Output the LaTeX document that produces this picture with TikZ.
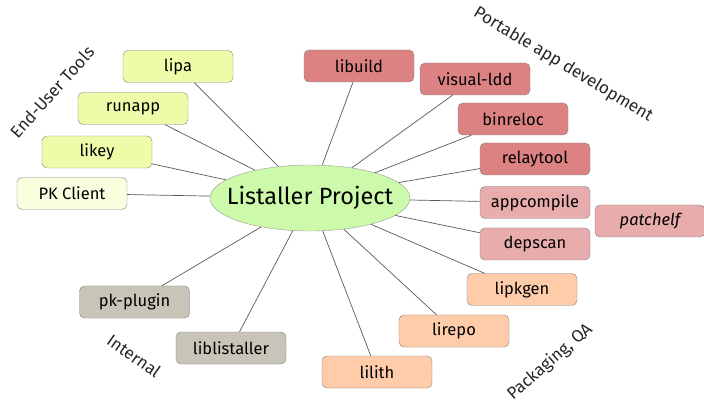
\documentclass[tikz,border=0pt]{standalone}
\usepackage{fontspec}
\setmainfont{Fira Sans}
\usepackage{xcolor}
\usepackage{tikz}
\usetikzlibrary{shapes.geometric}
\definecolor{lsgreen}{RGB}{204,250,170}
\definecolor{lsuser}{RGB}{238,252,170}
\definecolor{lspk}{RGB}{250,254,222}
\definecolor{lsport}{RGB}{220,130,130}
\definecolor{lsportlt}{RGB}{232,172,172}
\definecolor{lspkg}{RGB}{255,204,170}
\definecolor{lsint}{RGB}{200,196,184}
\tikzset{
  tool/.style={draw=black!50, rounded corners=5pt, minimum width=110pt, minimum height=32pt,
    inner sep=0pt, font=\fontsize{16.5}{19}\selectfont},
  user/.style={tool, fill=lsuser},
  port/.style={tool, fill=lsport},
  portlt/.style={tool, fill=lsportlt},
  pkg/.style={tool, fill=lspkg},
  intern/.style={tool, fill=lsint},
  grp/.style={font=\fontsize{17}{20}\selectfont, text=black!85},
  link/.style={draw=black!65, line width=0.7pt},
}
\begin{document}
\begin{tikzpicture}[x=1pt, y=-1pt]
  \useasboundingbox (0,0) rectangle (704,403);
  \node[ellipse, draw=black!40, fill=lsgreen, minimum width=200pt, minimum height=66pt,
    inner xsep=-15pt, inner ysep=0pt, font=\fontsize{23.5}{27}\selectfont] (prj) at (310,198) {Listaller Project};

  % end-user tools
  \node[user] (lipa) at (178,66.5) {lipa};
  \node[user] (runapp) at (133,108.5) {runapp};
  \node[user] (likey) at (97,152) {likey};
  \node[tool, fill=lspk] (pkclient) at (72,193.5) {PK Client};

  % portable apps
  \node[port] (libuild) at (359,66) {libuild};
  \node[port] (visldd) at (475,79) {visual-ldd};
  \node[port] (binreloc) at (513,119) {binreloc};
  \node[port] (relaytool) at (535,159) {relaytool};
  \node[portlt] (appcompile) at (535,202.5) {appcompile};
  \node[portlt] (depscan) at (535,244) {depscan};
  \node[portlt, font=\fontsize{16.5}{19}\selectfont\itshape] (patchelf) at (650,221) {patchelf};

  % packaging
  \node[pkg] (lipkgen) at (522,289.5) {lipkgen};
  \node[pkg] (lirepo) at (454,331) {lirepo};
  \node[pkg] (lilith) at (377,372) {lilith};

  % internal
  \node[intern] (pkplugin) at (134.5,302) {pk-plugin};
  \node[intern] (liblist) at (231,348) {liblistaller};

  \foreach \n in {lipa,runapp,likey,pkclient,libuild,visldd,binreloc,relaytool,
    appcompile,depscan,lipkgen,lirepo,lilith,pkplugin,liblist}
    \draw[link] (prj) -- (\n);

  % group labels
  \node[grp, rotate=48] (gusr) at (52,92) {End-User Tools};
  \node[grp, rotate=-31] (gport) at (563,65) {Portable app development};
  \node[grp, rotate=-35] (gint) at (134,356) {Internal};
  \node[grp, rotate=41] (gpkg) at (550,362) {Packaging, QA};
\end{tikzpicture}
\end{document}
